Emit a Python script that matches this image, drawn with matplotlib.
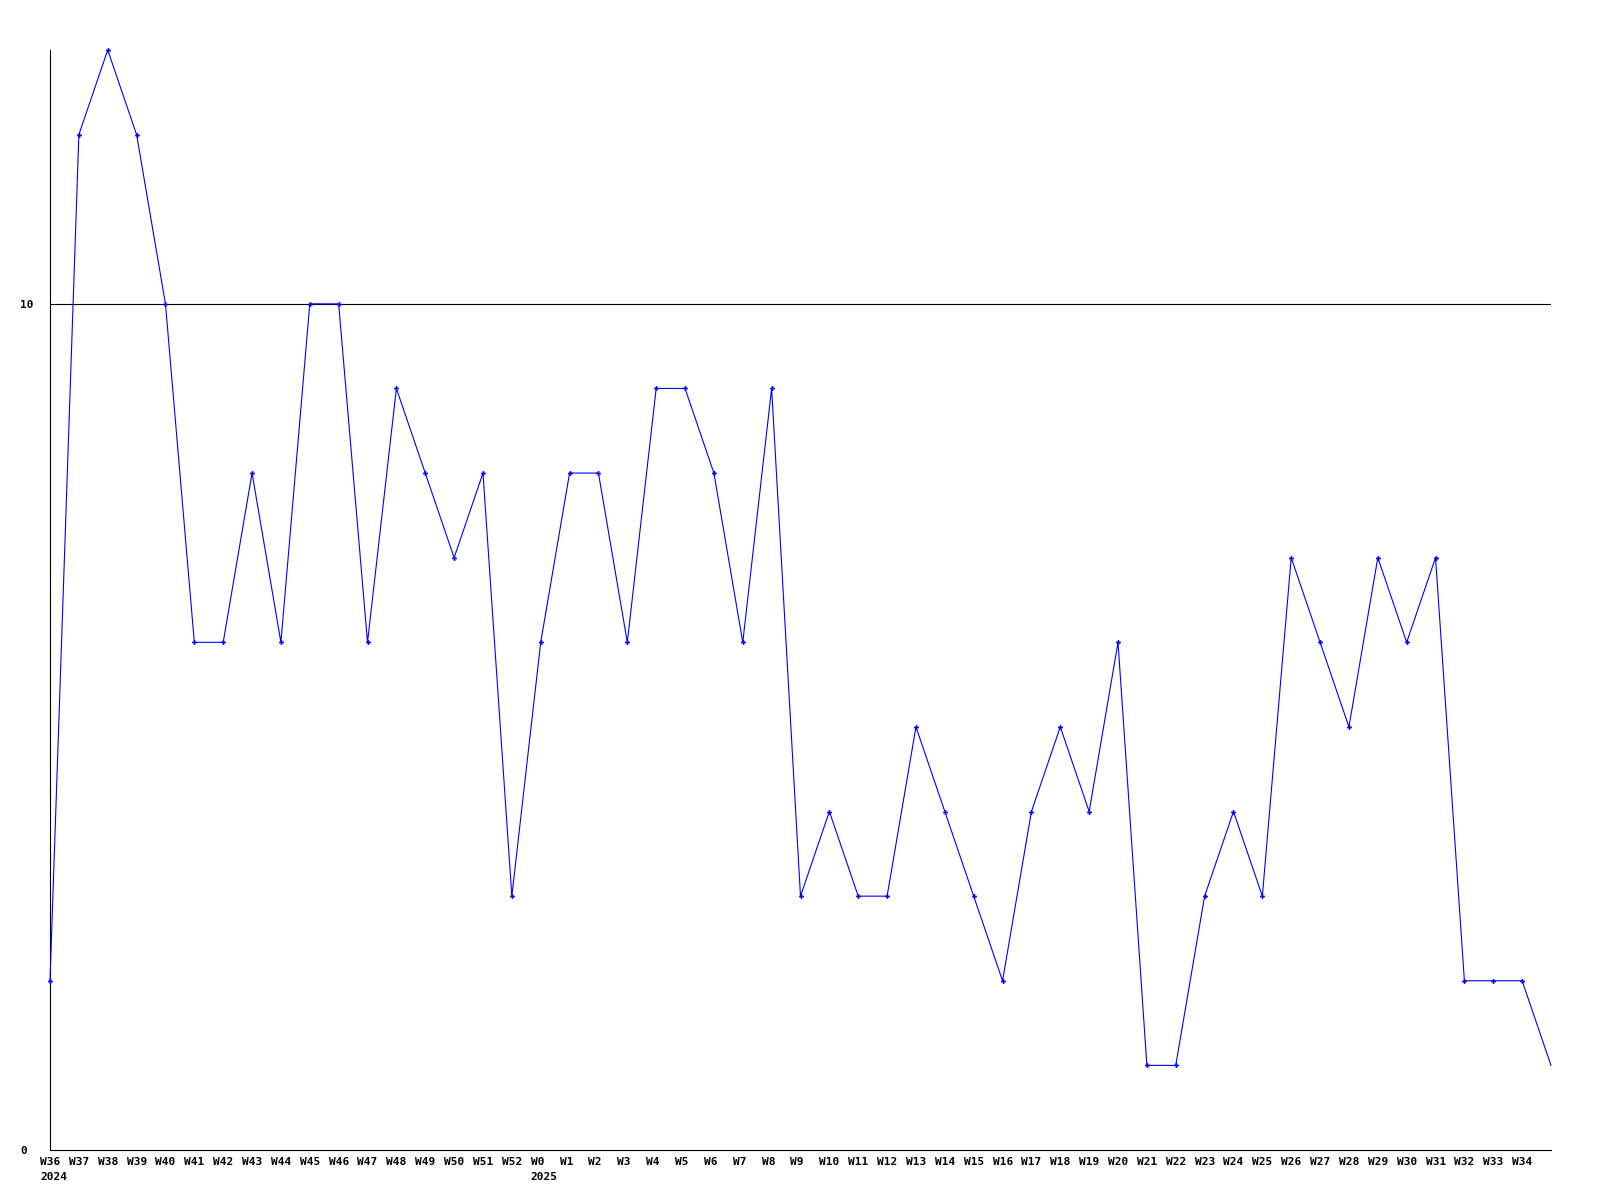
import matplotlib
matplotlib.use("Agg")
import matplotlib.pyplot as plt

weeks = ["W36", "W37", "W38", "W39", "W40", "W41", "W42", "W43", "W44", "W45",
         "W46", "W47", "W48", "W49", "W50", "W51", "W52",
         "W0", "W1", "W2", "W3", "W4", "W5", "W6", "W7", "W8", "W9", "W10",
         "W11", "W12", "W13", "W14", "W15", "W16", "W17", "W18", "W19", "W20",
         "W21", "W22", "W23", "W24", "W25", "W26", "W27", "W28", "W29", "W30",
         "W31", "W32", "W33", "W34", "W35"]
values = [2, 12, 13, 12, 10, 6, 6, 8, 6, 10,
          10, 6, 9, 8, 7, 8, 3,
          6, 8, 8, 6, 9, 9, 8, 6, 9, 3, 4,
          3, 3, 5, 4, 3, 2, 4, 5, 4, 6,
          1, 1, 3, 4, 3, 7, 6, 5, 7, 6,
          7, 2, 2, 2, 1]
shown_labels = weeks[:-1]
year_marks = {"W36": "2024", "W0": "2025"}
y_ticks = [0, 10]

W, H = 1600, 1200
fig = plt.figure(figsize=(16, 12), dpi=100)
ax = fig.add_axes([50 / W, 1 - 1150 / H, (1551 - 50) / W, (1150 - 50) / H])

xs = list(range(len(values)))
ax.plot(xs, values, color="#0000ff", lw=0.8, zorder=3, clip_on=False)
ax.plot(xs[:-1], values[:-1], ls="none", marker="P", ms=3.5, color="#0000ff",
        mew=0, zorder=4, clip_on=False)

ax.set_xlim(0, len(values) - 1)
ax.set_ylim(0, 13)
for s in ["top", "right"]:
    ax.spines[s].set_visible(False)
for s in ["left", "bottom"]:
    ax.spines[s].set_linewidth(0.8)
    ax.spines[s].set_color("black")

ax.axhline(10, color="black", lw=0.8, zorder=2)

font = dict(family="DejaVu Sans Mono", weight="bold", size=8)
ax.set_yticks(y_ticks)
ax.set_yticklabels([str(v) for v in y_ticks], ha="left", **font)
ax.tick_params(axis="y", length=0, pad=21.5)
ax.set_xticks([])

cw = 0.602 * 8  # character width in points
for i, lab in enumerate(shown_labels):
    ax.annotate(lab, xy=(i, 0), xycoords=("data", "axes fraction"),
                xytext=(-1.5 * cw, -5), textcoords="offset points",
                ha="left", va="top", **font)
    if lab in year_marks:
        ax.annotate(year_marks[lab], xy=(i, 0), xycoords=("data", "axes fraction"),
                    xytext=(-1.5 * cw, -16), textcoords="offset points",
                    ha="left", va="top", **font)

fig.savefig("out.png", dpi=100, facecolor="white")
